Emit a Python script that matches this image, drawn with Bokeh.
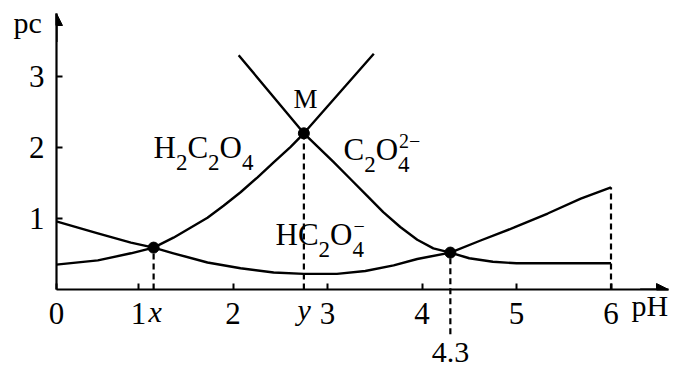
from bokeh.plotting import figure
from bokeh.models import Range1d, FixedTicker, Arrow, NormalHead
from bokeh.core.properties import value
from bokeh.embed import file_html
from bokeh.resources import INLINE

# ---- data (pH, pc) ----
h2c2o4_ph = [0.0, 0.13, 0.57, 0.92, 1.16, 1.37, 1.55, 1.73, 1.90, 2.08, 2.26, 2.43, 2.61, 2.75, 3.12, 3.49]
h2c2o4_pc = [0.34, 0.35, 0.41, 0.51, 0.59, 0.73, 0.87, 1.01, 1.18, 1.37, 1.58, 1.79, 2.01, 2.20, 2.76, 3.32]

hc2o4_ph = [0.0, 0.13, 0.57, 0.92, 1.16, 1.37, 1.73, 2.08, 2.43, 2.75, 3.10, 3.40, 3.70, 3.95, 4.30,
            4.62, 4.97, 5.33, 5.68, 6.0]
hc2o4_pc = [0.98, 0.96, 0.79, 0.66, 0.59, 0.51, 0.38, 0.30, 0.24, 0.22, 0.22, 0.26, 0.34, 0.43, 0.52,
            0.69, 0.87, 1.07, 1.28, 1.44]

c2o4_ph = [2.06, 2.75, 3.06, 3.24, 3.42, 3.59, 3.77, 3.95, 4.12, 4.30, 4.50, 4.75, 5.00, 6.0]
c2o4_pc = [3.30, 2.20, 1.80, 1.56, 1.32, 1.09, 0.88, 0.70, 0.58, 0.52, 0.44, 0.39, 0.37, 0.37]

# marked intersection points (x, M = y, 4.3)
point_ph = [1.16, 2.75, 4.30]
point_pc = [0.59, 2.20, 0.52]

# dashed drop lines
drop_ph = [1.16, 2.75, 4.30, 6.0]
drop_top = [0.59, 2.20, 0.52, 1.44]
drop_bottom = [0.0, 0.0, -0.63, 0.0]

x_tick_values = [1, 2, 3, 4, 5, 6]
x_tick_labels = ["1", "2", "3", "4", "5", "6"]
y_tick_values = [1, 2, 3]

# ---- layout (reference pixel geometry) ----
PX0, PXU = 43.5, 94.5      # screen x of pH 0 on tick scale, px per pH unit
PY0, PYU = 289.0, 71.0     # screen y of pc 0, px per pc unit
def dx(px):
    return (px - PX0) / PXU
def dy(py):
    return (PY0 - py) / PYU

X0 = dx(56)                # position of the drawn vertical axis
XEND = dx(668)
YEND = dy(13)

FONT = "Liberation Serif"

p = figure(width=678, height=368, output_backend="svg", toolbar_location=None,
           x_range=Range1d(X0, XEND), y_range=Range1d(0, YEND),
           min_border_left=56, min_border_right=10, min_border_top=13, min_border_bottom=79)
p.title.visible = False
p.outline_line_color = None
p.grid.visible = False
p.background_fill_color = "white"
p.border_fill_color = "white"

for ax in (p.xaxis[0], p.yaxis[0]):
    ax.axis_line_width = 2.2
    ax.axis_line_color = "black"
    ax.major_tick_in = 6
    ax.major_tick_out = 0
    ax.major_tick_line_width = 2
    ax.major_tick_line_color = "black"
    ax.minor_tick_line_color = None
    ax.major_label_text_font = FONT
    ax.major_label_text_font_size = "31px"
    ax.major_label_text_color = "black"

p.xaxis[0].ticker = FixedTicker(ticks=[X0] + x_tick_values)
p.xaxis[0].major_label_overrides = dict([(X0, "0")] + list(zip(x_tick_values, x_tick_labels)))
p.xaxis[0].major_label_standoff = 13
p.yaxis[0].ticker = FixedTicker(ticks=y_tick_values)
p.yaxis[0].major_label_standoff = 12

# curves
LW = 2.4
p.line(h2c2o4_ph, h2c2o4_pc, line_color="black", line_width=LW, line_join="round")
p.line(hc2o4_ph, hc2o4_pc, line_color="black", line_width=LW, line_join="round")
p.line(c2o4_ph, c2o4_pc, line_color="black", line_width=LW, line_join="round")

# dashed drop lines (drawn at overlay level so the 4.3 line may pass below the axis)
p.segment(x0=drop_ph, y0=drop_bottom, x1=drop_ph, y1=drop_top,
          line_color="black", line_width=2.2, line_dash="6 4", level="overlay")

p.scatter(point_ph, point_pc, size=11, color="black")

# axis arrows
p.add_layout(Arrow(end=NormalHead(size=12, fill_color="black", line_color="black"),
                   x_start=X0, y_start=YEND - 0.4, x_end=X0, y_end=YEND,
                   line_color="black", line_width=2.2))
p.add_layout(Arrow(end=NormalHead(size=12, fill_color="black", line_color="black"),
                   x_start=XEND - 0.3, y_start=0, x_end=XEND, y_end=0,
                   line_color="black", line_width=2.2))

# ---- text (drawn as overlay-level text glyphs so that nothing is clipped) ----
groups = {}
def lab(text, px, py, size, style="normal", align="left"):
    key = (size, style, align)
    g = groups.setdefault(key, {"x": [], "y": [], "t": []})
    g["x"].append(dx(px))
    g["y"].append(dy(py - 0.36 * size))   # compensate the glyph's baseline placement
    g["t"].append(text)

WID = {"H": 0.722, "C": 0.667, "O": 0.722, "2": 0.5, "4": 0.5, "-": 0.564, "M": 0.889}
F, FS, FP = 31, 23, 20

def formula(parts, px, base):
    x = px
    last_x = x
    for txt, kind in parts:
        if kind == "n":
            lab(txt, x, base, F)
            last_x = x
            x += WID[txt] * F
        elif kind == "s":
            lab(txt, x, base + 12, FS)
            last_x = x
            x += WID[txt] * FS
        else:  # superscript stacked over previous subscript
            lab(txt.replace("-", "\u2212"), last_x + 1, base - 12, FP)

formula([("H", "n"), ("2", "s"), ("C", "n"), ("2", "s"), ("O", "n"), ("4", "s")], 153, 158)
formula([("C", "n"), ("2", "s"), ("O", "n"), ("4", "s"), ("2-", "p")], 343, 160)
formula([("H", "n"), ("C", "n"), ("2", "s"), ("O", "n"), ("4", "s"), ("-", "p")], 275, 245)

lab("M", 293, 108, 27)
lab("pc", 13, 33, 30)
lab("pH", 631, 316, 30)
lab("x", 148, 322, 30, style="italic")
lab("y", 297, 320, 30, style="italic")
lab("4.3", 450, 363, 30, align="center")

for (size, style, align), g in groups.items():
    p.text(x=g["x"], y=g["y"], text=g["t"], text_font=value(FONT),
           text_font_size=value(f"{size}px"), text_font_style=style,
           text_align=align, text_baseline="alphabetic", text_color="black",
           level="overlay")

open("out.html", "w").write(file_html(p, INLINE))
